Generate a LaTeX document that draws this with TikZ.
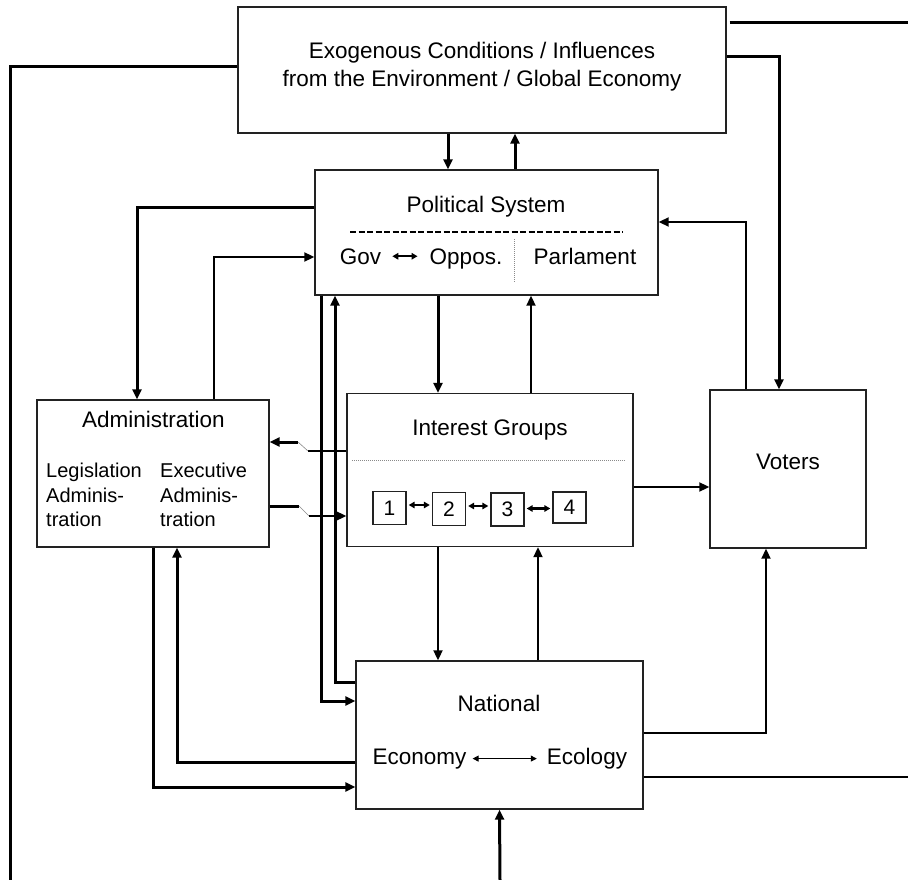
\documentclass[tikz,border=0pt]{standalone}
\usepackage{fontspec}
\setmainfont{Liberation Sans}
\usetikzlibrary{arrows.meta,positioning}
\definecolor{Frame}{HTML}{222222}
\definecolor{Rule}{HTML}{8A8A8A}

\begin{document}
\begin{tikzpicture}[
      x=1pt,y=-1pt,
      box/.style={draw=Frame,line width=1.4pt,inner sep=0pt},
      gbox/.style={draw=Frame,line width=1.4pt,inner sep=0pt,minimum width=33pt,
        minimum height=33pt,font=\fontsize{21}{24}\selectfont},
      txt/.style={inner sep=0pt,align=center,font=\fontsize{22.5}{28}\selectfont},
      subtxt/.style={inner sep=0pt,align=left,font=\fontsize{20}{24.5}\selectfont},
      conn/.style={line width=3pt},
      thinconn/.style={line width=2pt},
      arrow/.style={conn,-{Triangle[length=10pt,width=9pt]}},
      dbl/.style={line width=2.2pt,{Triangle[length=6pt,width=6.5pt]}-{Triangle[length=6pt,width=6.5pt]}},
      thindbl/.style={line width=1pt,{Triangle[length=6pt,width=6pt]}-{Triangle[length=6pt,width=6pt]}},
      hop/.style={line width=0.6pt,color=Rule},
      dashrule/.style={line width=1.1pt,dash pattern=on 6pt off 2.5pt},
      dotrule/.style={line width=0.6pt,color=Rule,dash pattern=on 1pt off 1pt}
    ]
      \useasboundingbox (0,0) rectangle (908,880);
      \node[box,minimum width=488pt,minimum height=126pt] (exo) at (482,70) {};
      \node[txt] (exotext) at (482,67) {Exogenous Conditions / Influences\\from the Environment / Global Economy};

      \node[box,minimum width=343pt,minimum height=125pt] (pol) at (486.5,232.5) {};
      \node[txt,anchor=base] (poltitle) at (486,212) {Political System};
      \draw[dashrule] (350,232) -- (623,232);
      \node[txt,anchor=base] (gov) at (360.5,264) {Gov};
      \node[txt,anchor=base] (oppos) at (466,264) {Oppos.};
      \node[txt,anchor=base] (parl) at (585,264) {Parlament};
      \draw[dbl,shorten <=11pt,shorten >=12pt] (gov.east) -- (gov.east -| oppos.west);
      \draw[dotrule] (514,239) -- (514,283);

      \node[box,minimum width=232pt,minimum height=147pt] (admin) at (153,473.5) {};
      \node[txt,anchor=base] (admintitle) at (153.5,427) {Administration};
      \node[subtxt,anchor=north west] (legis) at (46,463) {Legislation\\Adminis-\\tration};
      \node[subtxt,anchor=north west] (exec) at (160,463) {Executive\\Adminis-\\tration};

      \node[box,minimum width=286pt,minimum height=153pt] (ig) at (490,470) {};
      \node[txt,anchor=base] (igtitle) at (490,435) {Interest Groups};
      \draw[dotrule] (352,460) -- (625,460);
      \node[gbox] (g1) at (389.5,508) {1};
      \node[gbox] (g2) at (449,509) {2};
      \node[gbox] (g3) at (507.5,509.5) {3};
      \node[gbox,minimum height=31pt] (g4) at (569.5,507.5) {4};
      \draw[dbl,shorten <=2pt,shorten >=2pt] ([yshift=3pt]g1.east) -- ([yshift=3pt]g1.east -| g2.west);
      \draw[dbl,shorten <=2pt,shorten >=2pt] ([yshift=3pt]g2.east) -- ([yshift=3pt]g2.east -| g3.west);
      \draw[dbl,shorten <=2pt,shorten >=2pt] ([yshift=1pt]g3.east) -- ([yshift=1pt]g3.east -| g4.west);

      \node[box,minimum width=156pt,minimum height=158pt] (voters) at (788,469) {};
      \node[txt,anchor=base] (voterstext) at (788,469) {Voters};

      \node[box,minimum width=287pt,minimum height=148pt] (nat) at (499.5,735) {};
      \node[txt,anchor=base] (nattitle) at (499,711) {National};
      \node[txt,anchor=base] (econ) at (419.5,764) {Economy};
      \node[txt,anchor=base] (ecol) at (587,764) {Ecology};
      \draw[thindbl,shorten <=6pt,shorten >=10pt] (econ.east) -- (econ.east -| ecol.west);

      \coordinate (outsw) at (10,880);
      \coordinate (outne) at (908,23);
      \coordinate (oute) at (908,777);
      \coordinate (outs) at (500,880);
      \coordinate (jig) at (308,451);
      \coordinate (jad) at (298,442);
      \coordinate (jad2) at (299,506);
      \coordinate (jig2) at (309,516);

      \draw[arrow] (exo.south -| 448,0) -- (pol.north -| 448,0);
      \draw[arrow] (pol.north -| 515,0) -- (exo.south -| 515,0);
      \draw[conn] (exo.west |- 0,67) -| (outsw);
      \draw[conn,shorten <=3pt] (exo.east |- 0,23) -- (outne);
      \draw[arrow] (exo.east |- 0,57) -| (voters.north -| 779,0);
      \draw[arrow,thinconn] (voters.north -| 746,0) |- (pol.east |- 0,222);
      \draw[arrow] (pol.west |- 0,207) -| (admin.north -| 137,0);
      \draw[arrow,thinconn] (admin.north -| 214,0) |- (pol.west |- 0,257);
      \draw[arrow] (pol.south -| 321,0) |- (nat.west |- 0,701);
      \draw[arrow] (nat.west |- 0,682) -| (pol.south -| 335,0);
      \draw[arrow] (pol.south -| 438,0) -- (ig.north -| 438,0);
      \draw[arrow,thinconn] (ig.north -| 531,0) -- (pol.south -| 531,0);
      \draw[arrow,thinconn] (ig.south -| 438,0) -- (nat.north -| 438,0);
      \draw[arrow,thinconn] (nat.north -| 538,0) -- (ig.south -| 538,0);
      \draw[arrow,thinconn] (ig.east |- 0,487) -- (voters.west |- 0,487);
      \draw[arrow,thinconn] (nat.east |- 0,733) -| (voters.south -| 766,0);
      \draw[thinconn] (nat.east |- 0,777) -- (oute);
      \draw[arrow] (outs) -- (nat.south);
      \draw[arrow] (admin.south -| 153,0) |- (nat.west |- 0,787);
      \draw[arrow] (nat.west |- 0,762) -| (admin.south -| 177,0);
      \draw[thinconn] (ig.west |- 0,451) -- (jig);
      \draw[hop] (jig) -- (jad);
      \draw[arrow] (jad) -- (admin.east |- 0,442);
      \draw[conn] (admin.east |- 0,506) -- (jad2);
      \draw[hop] (jad2) -- (jig2);
      \draw[arrow,thinconn] (jig2) -- (ig.west |- 0,516);
    \end{tikzpicture}
\end{document}
